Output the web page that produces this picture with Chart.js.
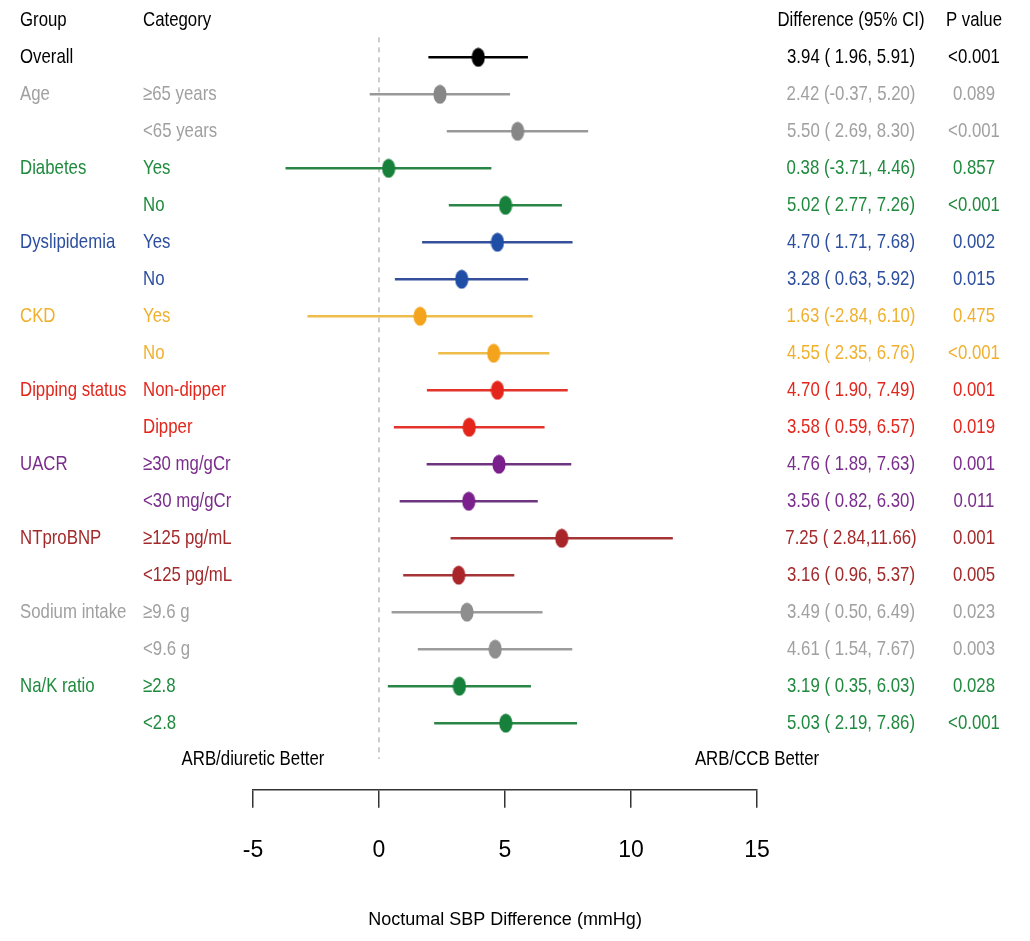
<!DOCTYPE html>
<html>
<head>
<meta charset="utf-8">
<script src="https://cdn.jsdelivr.net/npm/chart.js@4"></script>
<style>
  html, body { margin: 0; padding: 0; background: #fff; }
  #wrap { width: 1030px; height: 941px; }
</style>
</head>
<body>
<div id="wrap"><canvas id="forest" width="1030" height="941"></canvas></div>
<script>
// forest plot data, one entry per row
const groupNames = ['Overall', 'Age', 'Diabetes', 'Dyslipidemia', 'CKD', 'Dipping status', 'UACR', 'NTproBNP', 'Sodium intake', 'Na/K ratio'];
const rowGroup = [0, 1, 1, 2, 2, 3, 3, 4, 4, 5, 5, 6, 6, 7, 7, 8, 8, 9, 9];
const categories = ['', '≥65 years', '<65 years', 'Yes', 'No', 'Yes', 'No', 'Yes', 'No', 'Non-dipper', 'Dipper',
    '≥30 mg/gCr', '<30 mg/gCr', '≥125 pg/mL', '<125 pg/mL', '≥9.6 g', '<9.6 g', '≥2.8', '<2.8'];
const estimate = [3.94, 2.42, 5.50, 0.38, 5.02, 4.70, 3.28, 1.63, 4.55, 4.70, 3.58, 4.76, 3.56, 7.25, 3.16, 3.49, 4.61, 3.19, 5.03];
const lower = [1.96, -0.37, 2.69, -3.71, 2.77, 1.71, 0.63, -2.84, 2.35, 1.90, 0.59, 1.89, 0.82, 2.84, 0.96, 0.50, 1.54, 0.35, 2.19];
const upper = [5.91, 5.20, 8.30, 4.46, 7.26, 7.68, 5.92, 6.10, 6.76, 7.49, 6.57, 7.63, 6.30, 11.66, 5.37, 6.49, 7.67, 6.03, 7.86];
const pValues = ['<0.001', '0.089', '<0.001', '0.857', '<0.001', '0.002', '0.015', '0.475', '<0.001', '0.001', '0.019',
    '0.001', '0.011', '0.001', '0.005', '0.023', '0.003', '0.028', '<0.001'];
const xTicks = [-5, 0, 5, 10, 15];

// colours per group: dots, CI lines, text
const dotColors = ['#000000', '#878787', '#17803a', '#1f4ea6', '#f4a41c', '#e4251b', '#7a1f8c', '#a8262a', '#8e8e8e', '#17803a'];
const lineColors = ['#000000', '#999999', '#2a8646', '#34509a', '#eebc48', '#e4332a', '#6e3480', '#a63436', '#9c9c9c', '#2a8646'];
const textColors = ['#000000', '#a0a0a0', '#1f8a3e', '#2b4e9e', '#f0b02c', '#e2261c', '#7a2d8c', '#a3292b', '#a0a0a0', '#1f8a3e'];

const FONT = "'Liberation Sans', Arial, sans-serif";

function ciText(i) {
    const f = v => v.toFixed(2).padStart(5, ' ');
    return estimate[i].toFixed(2) + ' (' + f(lower[i]) + ',' + f(upper[i]) + ')';
}

// the original uses a condensed face, so squeeze the text horizontally
function narrowText(ctx, text, x, y, align) {
    ctx.save();
    ctx.translate(x, y);
    ctx.scale(0.8, 1);
    ctx.textAlign = align;
    ctx.fillText(text, 0, 0);
    ctx.restore();
}

// dots in the original are slightly taller than wide
function ellipseDot(color) {
    const c = document.createElement('canvas');
    c.width = 14;
    c.height = 20;
    const g = c.getContext('2d');
    g.fillStyle = color;
    g.beginPath();
    g.ellipse(7, 10, 6.6, 9.4, 0, 0, Math.PI * 2);
    g.fill();
    return c;
}
const dotImages = dotColors.map(ellipseDot);

const rows = estimate.map((_, i) => i);

const ciDatasets = rows.map(i => ({
    data: [{x: lower[i], y: i}, {x: upper[i], y: i}],
    showLine: true,
    borderColor: lineColors[rowGroup[i]],
    borderWidth: 2.5,
    pointRadius: 0,
    order: 1
}));

const tablePlugin = {
    id: 'forestTable',
    afterDraw(chart) {
        const ctx = chart.ctx;
        const ys = chart.scales.y;
        const xs = chart.scales.x;
        ctx.save();
        ctx.font = '21px ' + FONT;
        ctx.textBaseline = 'middle';

        const headY = ys.getPixelForValue(-1);
        ctx.fillStyle = '#000';
        narrowText(ctx, 'Group', 20, headY, 'left');
        narrowText(ctx, 'Category', 143, headY, 'left');
        narrowText(ctx, 'Difference (95% CI)', 851, headY, 'center');
        narrowText(ctx, 'P value', 974, headY, 'center');

        rows.forEach(i => {
            const y = ys.getPixelForValue(i);
            const g = rowGroup[i];
            ctx.fillStyle = textColors[g];
            if (i === 0 || rowGroup[i - 1] !== g) narrowText(ctx, groupNames[g], 20, y, 'left');
            narrowText(ctx, categories[i], 143, y, 'left');
            narrowText(ctx, ciText(i), 851, y, 'center');
            narrowText(ctx, pValues[i], 974, y, 'center');
        });

        ctx.fillStyle = '#000';
        const by = ys.getPixelForValue(18.97);
        narrowText(ctx, 'ARB/diuretic Better', xs.getPixelForValue(-5), by, 'center');
        narrowText(ctx, 'ARB/CCB Better', xs.getPixelForValue(15), by, 'center');
        ctx.restore();
    }
};

new Chart(document.getElementById('forest'), {
    type: 'scatter',
    data: {
        datasets: [
            {
                data: rows.map(i => ({x: estimate[i], y: i})),
                pointStyle: rows.map(i => dotImages[rowGroup[i]]),
                pointRadius: 9,
                pointHoverRadius: 9,
                order: 0
            },
            ...ciDatasets,
            {
                data: [{x: 0, y: -0.54}, {x: 0, y: 18.97}],
                showLine: true,
                borderColor: '#9a9a9a',
                borderWidth: 1,
                borderDash: [5, 5],
                pointRadius: 0,
                order: 2
            }
        ]
    },
    options: {
        responsive: false,
        animation: false,
        layout: {
            padding: {left: 253, right: 273, top: 0, bottom: 10}
        },
        plugins: {
            legend: {display: false},
            tooltip: {enabled: false}
        },
        scales: {
            x: {
                type: 'linear',
                min: -5,
                max: 15,
                afterBuildTicks: axis => { axis.ticks = xTicks.map(v => ({value: v})); },
                border: {display: true, color: '#333', width: 1.5},
                grid: {drawOnChartArea: false, drawTicks: true, tickLength: 18, color: '#333', lineWidth: 1.5},
                ticks: {color: '#000', font: {family: FONT, size: 23}, padding: 29},
                title: {
                    display: true,
                    text: 'Noctumal SBP Difference (mmHg)',
                    color: '#000',
                    font: {family: FONT, size: 18},
                    padding: {top: 16, bottom: 0}
                }
            },
            y: {
                type: 'linear',
                display: false,
                reverse: true,
                min: -1.28,
                max: 19.8
            }
        }
    },
    plugins: [tablePlugin]
});
</script>
</body>
</html>
